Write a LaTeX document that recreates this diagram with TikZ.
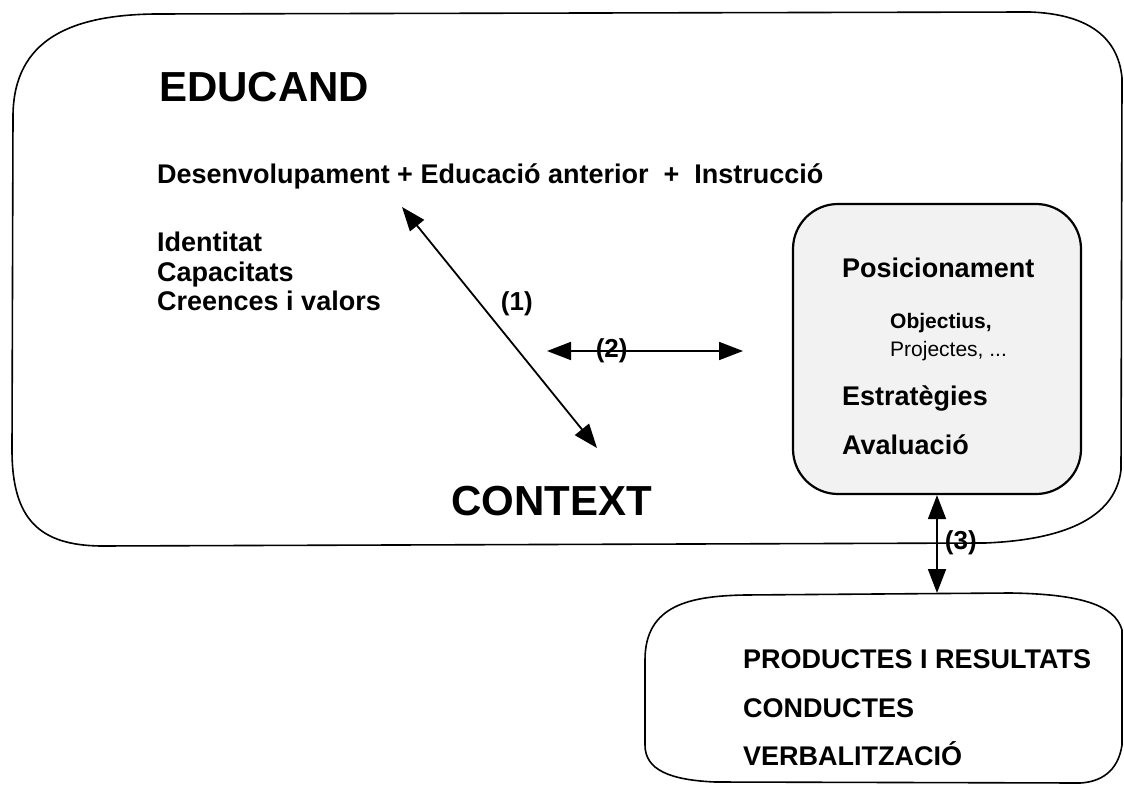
\documentclass[tikz,border=0pt]{standalone}
\usepackage{fontspec}
\setmainfont{Liberation Sans}
\usepackage{tikz}
\usetikzlibrary{positioning, arrows.meta}
\tikzset{
  title/.style={font=\fontsize{42}{46}\selectfont\bfseries, inner sep=0pt, anchor=base west},
  txt/.style={font=\fontsize{27}{30}\selectfont\bfseries, inner sep=0pt, anchor=base west},
  small/.style={font=\fontsize{21}{24}\selectfont\bfseries, inner sep=0pt, anchor=base west},
  lbl/.style={font=\fontsize{26}{28}\selectfont\bfseries, inner sep=0pt},
  frame/.style={line width=1.6pt},
  panel/.style={draw, line width=2.2pt, rounded corners=45pt, fill=black!5},
  arrow/.style={line width=1.8pt, {Triangle[length=24pt,width=18pt]}-{Triangle[length=24pt,width=18pt]}}
}
\begin{document}
\begin{tikzpicture}[x=1pt, y=-1pt]
        \useasboundingbox (0,0) rectangle (1124,786);
        % outer frame
        \draw [frame] (13,115) .. controls (14,40) and (70,15) .. (155,14) -- (1030,12) .. controls (1085,14) and (1118,35) .. (1122,78) -- (1121,470) .. controls (1115,520) and (1060,540) .. (985,543) -- (100,546) .. controls (40,545) and (12,520) .. (12,450) -- cycle;
        % lower frame
        \draw [frame] (645,660) .. controls (645,605) and (690,596) .. (745,595) -- (1010,593) .. controls (1080,594) and (1115,605) .. (1122,630) -- (1122,745) .. controls (1118,772) and (1100,782) .. (1080,783) -- (715,782) .. controls (670,780) and (645,770) .. (645,745) -- cycle;
        \node (posic) [panel, minimum width=288pt, minimum height=290pt] at (937,349) {};

        \node (educand) [title] at (159,102) {EDUCAND};
        \node (desen) [txt] at (157,184) {Desenvolupament + Educació anterior\ \ +\ \ Instrucció};
        \node (ident) [txt] at (157,252) {Identitat};
        \node (capac) [txt, below=29pt of ident.base west, anchor=base west] {Capacitats};
        \node (creen) [txt, below=29pt of capac.base west, anchor=base west] {Creences i valors};
        \node (context) [title, anchor=base] at (552,515) {CONTEXT};

        \node (posicio) [txt] at (842,277) {Posicionament};
        \node (object) [small] at (890,328) {Objectius,};
        \node (project) [small, font=\fontsize{21}{24}\selectfont\mdseries, below=28pt of object.base west, anchor=base west] {Projectes, ...};
        \node (estrat) [txt] at (842,405) {Estratègies};
        \node (aval) [txt, below=49pt of estrat.base west, anchor=base west] {Avaluació};

        \node (prod) [txt] at (743,668) {PRODUCTES I RESULTATS};
        \node (conduc) [txt, below=49pt of prod.base west, anchor=base west] {CONDUCTES};
        \node (verbal) [txt, below=48pt of conduc.base west, anchor=base west] {VERBALITZACIÓ};

        \coordinate (a1s) at (402,207);
        \coordinate (a1e) at (597,448);
        \coordinate (a2s) at (547,351);
        \coordinate (a2e) at (743,351);
        \coordinate (prodtop) at (937,593);

        \draw [arrow] (a1s) -- node[lbl, pos=0.4, right=20pt] {(1)} (a1e);
        \draw [arrow] (a2s) -- node[lbl, pos=0.33] {(2)} (a2e);
        \draw [arrow] (posic.south -| prodtop) -- node[lbl, pos=0.49, right=7pt] {(3)} (prodtop);
\end{tikzpicture}
\end{document}
